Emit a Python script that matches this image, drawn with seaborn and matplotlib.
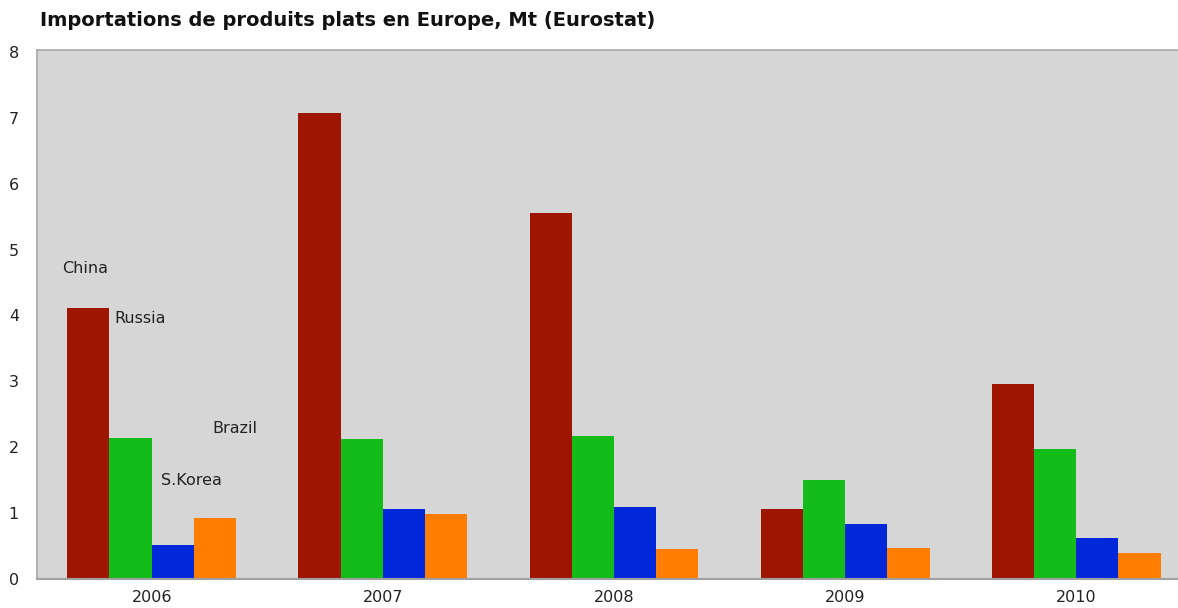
import matplotlib
matplotlib.use("Agg")
import matplotlib.pyplot as plt
import seaborn as sns
import pandas as pd

years = ["2006", "2007", "2008", "2009", "2010"]
countries = ["China", "Russia", "Brazil", "S.Korea"]
china = [4.12, 7.08, 5.56, 1.06, 2.96]
russia = [2.14, 2.12, 2.17, 1.51, 1.98]
brazil = [0.52, 1.06, 1.10, 0.83, 0.62]
skorea = [0.92, 0.99, 0.45, 0.47, 0.40]
colors = ["#9e1500", "#14bc1a", "#0027d9", "#ff7d00"]
y_ticks = [0, 1, 2, 3, 4, 5, 6, 7, 8]

rows = []
for name, vals in zip(countries, [china, russia, brazil, skorea]):
    for yr, v in zip(years, vals):
        rows.append({"Year": yr, "Country": name, "Value": v})
df = pd.DataFrame(rows)

sns.set_theme(style="white")
plt.rcParams["font.family"] = ["DejaVu Sans"]

fig = plt.figure(figsize=(11.78, 6.08), dpi=100)
ax = fig.add_axes([37 / 1178, 1 - 579 / 608, (1178 - 37) / 1178, (579 - 50) / 608])
ax.set_facecolor("#d6d6d6")

sns.barplot(data=df, x="Year", y="Value", hue="Country", order=years,
            hue_order=countries, palette=colors, width=0.73, ax=ax,
            saturation=1, edgecolor="none", legend=False)

ax.set_xlim(-0.496, 4.44)
ax.set_ylim(0, 8.03)
ax.set_yticks(y_ticks)
ax.set_yticklabels([str(t) for t in y_ticks], fontsize=11.5, color="#222222")
ax.tick_params(axis="y", length=0, pad=13)
ax.tick_params(axis="x", length=0, pad=8, labelsize=11.5, labelcolor="#222222")
ax.set_xlabel("")
ax.set_ylabel("")

for side in ["left", "top"]:
    ax.spines[side].set_color("#a8a8a8")
    ax.spines[side].set_linewidth(1.2)
ax.spines["right"].set_visible(False)
ax.spines["bottom"].set_color("#a0a0a0")
ax.spines["bottom"].set_linewidth(1.5)

labels_pos = {"China": (-0.388, 4.72), "Russia": (-0.162, 3.95),
              "Brazil": (0.262, 2.29), "S.Korea": (0.041, 1.50)}
for name in countries:
    x, y = labels_pos[name]
    ax.text(x, y, name, fontsize=11.5, color="#222222", ha="left", va="center")

fig.text(40 / 1178, 1 - 20 / 608, "Importations de produits plats en Europe, Mt (Eurostat)",
         fontsize=14, fontweight="bold", color="#111111", ha="left", va="center")

fig.savefig("out.png", dpi=100)
